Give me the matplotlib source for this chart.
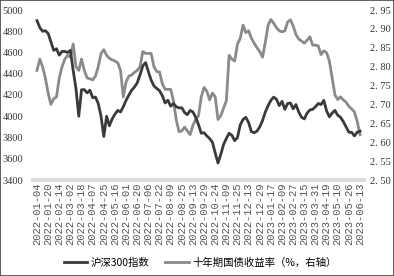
import matplotlib
matplotlib.use("Agg")

import matplotlib.pyplot as plt
from matplotlib.patches import Rectangle
import numpy as np

# tick labels, one every 12 trading days
dates = ["2022-01-04", "2022-01-20", "2022-02-14", "2022-03-02", "2022-03-18",
         "2022-04-07", "2022-04-25", "2022-05-16", "2022-06-01", "2022-06-20",
         "2022-07-06", "2022-07-22", "2022-08-09", "2022-08-25", "2022-09-13",
         "2022-09-29", "2022-10-24", "2022-11-09", "2022-11-25", "2022-12-13",
         "2022-12-29", "2023-01-17", "2023-02-09", "2023-02-27", "2023-03-15",
         "2023-03-31", "2023-04-19", "2023-05-10", "2023-05-26", "2023-06-13"]

# values sampled every 3 trading days
csi300 = [4900, 4835, 4800, 4805, 4780, 4700, 4620, 4635, 4575, 4610,
          4610, 4600, 4620, 4430, 4260, 4000, 4250, 4250, 4220, 4245,
          4175, 4180, 4120, 4000, 3810, 4000, 3910, 3975, 4020, 4055,
          4040, 4090, 4150, 4200, 4245, 4275, 4315, 4390, 4475, 4505,
          4420, 4340, 4285, 4262, 4240, 4195, 4125, 4150, 4095, 4120,
          4090, 4078, 4080, 4035, 4015, 4055, 4040, 3990, 3920, 3840,
          3845, 3815, 3790, 3755, 3654, 3560, 3640, 3735, 3790, 3840,
          3820, 3770, 3800, 3920, 3970, 3990, 3940, 3855, 3845, 3860,
          3900, 3960, 4040, 4100, 4150, 4180, 4160, 4100, 4140, 4065,
          4120, 4125, 4070, 4110, 4040, 3990, 3975, 4030, 4059, 4065,
          4090, 4120, 4110, 4150, 4050, 3995, 4030, 4055, 4010, 3990,
          3950, 3900, 3850, 3848, 3815, 3850, 3860]

yield10 = [2.79, 2.82, 2.80, 2.77, 2.73, 2.70, 2.715, 2.72, 2.77, 2.80,
           2.82, 2.83, 2.825, 2.86, 2.80, 2.79, 2.82, 2.79, 2.77, 2.768,
           2.765, 2.775, 2.80, 2.835, 2.845, 2.83, 2.822, 2.818, 2.815, 2.81,
           2.79, 2.72, 2.76, 2.775, 2.778, 2.785, 2.79, 2.80, 2.84, 2.835,
           2.835, 2.835, 2.80, 2.787, 2.786, 2.755, 2.74, 2.74, 2.74, 2.71,
           2.66, 2.628, 2.63, 2.64, 2.63, 2.62, 2.645, 2.66, 2.67, 2.72,
           2.745, 2.735, 2.712, 2.73, 2.72, 2.66, 2.67, 2.69, 2.71, 2.83,
           2.82, 2.815, 2.86, 2.875, 2.91, 2.89, 2.895, 2.875, 2.862, 2.85,
           2.84, 2.825, 2.865, 2.91, 2.925, 2.915, 2.903, 2.895, 2.892, 2.895,
           2.918, 2.924, 2.908, 2.885, 2.873, 2.868, 2.862, 2.87, 2.879, 2.857,
           2.857, 2.855, 2.832, 2.842, 2.837, 2.815, 2.77, 2.725, 2.713, 2.72,
           2.712, 2.706, 2.695, 2.688, 2.68, 2.655, 2.62]

x = np.arange(len(csi300)) * 3
cjk = ["Noto Sans CJK SC", "DejaVu Sans"]

fig = plt.figure(figsize=(3.94, 2.76), dpi=100)
ax = fig.add_axes([33 / 394, 1 - 180 / 276, 331 / 394, 170 / 276])
ax2 = ax.twinx()

l1, = ax.plot(x, csi300, color="#3a3a3a", lw=2.0, label="沪深300指数")
l2, = ax2.plot(x, yield10, color="#8a8a8a", lw=2.0, label="十年期国债收益率（%，右轴）")
ax.set_zorder(ax2.get_zorder() + 1)
ax.patch.set_visible(False)

ax.set_ylim(3400, 5000)
ax.set_yticks(range(3400, 5001, 200))
ax2.set_ylim(2.50, 2.95)
ax2.set_yticks(np.arange(2.50, 2.96, 0.05))
ax2.set_yticklabels(["%.2f" % v for v in np.arange(2.50, 2.96, 0.05)])
ax2.set_yticklabels([("%.2f" % v).replace(".", ". ") for v in np.arange(2.50, 2.96, 0.05)])
ax.set_xlim(-4.3, 352.3)
ax.set_xticks(np.arange(0, 349, 12))
ax.set_xticklabels(dates, rotation=90, fontsize=7.6, family="Liberation Mono", color="#555555")

for a in (ax, ax2):
    for s in a.spines.values():
        s.set_visible(False)
    a.tick_params(length=0)
ax.spines["bottom"].set_visible(True)
ax.spines["bottom"].set_color("#dddddd")
ax.spines["bottom"].set_linewidth(3)
ax.tick_params(axis="y", labelsize=7.5, pad=7, labelcolor="#333333")
ax.tick_params(axis="x", pad=2)
ax2.tick_params(axis="y", labelsize=7.5, pad=4, labelcolor="#333333")
for t in ax.get_yticklabels() + ax2.get_yticklabels():
    t.set_family("Liberation Serif")

fig.legend(handles=[l1, l2], loc="center", bbox_to_anchor=(200 / 394, 1 - 263 / 276),
           ncol=2, frameon=False, prop={"family": cjk, "size": 7.5},
           handlelength=2.3, columnspacing=1.5, handletextpad=0.3)

fig.patches.append(Rectangle((0, 0), 1, 1, transform=fig.transFigure, fill=False,
                             edgecolor="#444444", lw=1.2))

fig.savefig("out.png", dpi=100)
